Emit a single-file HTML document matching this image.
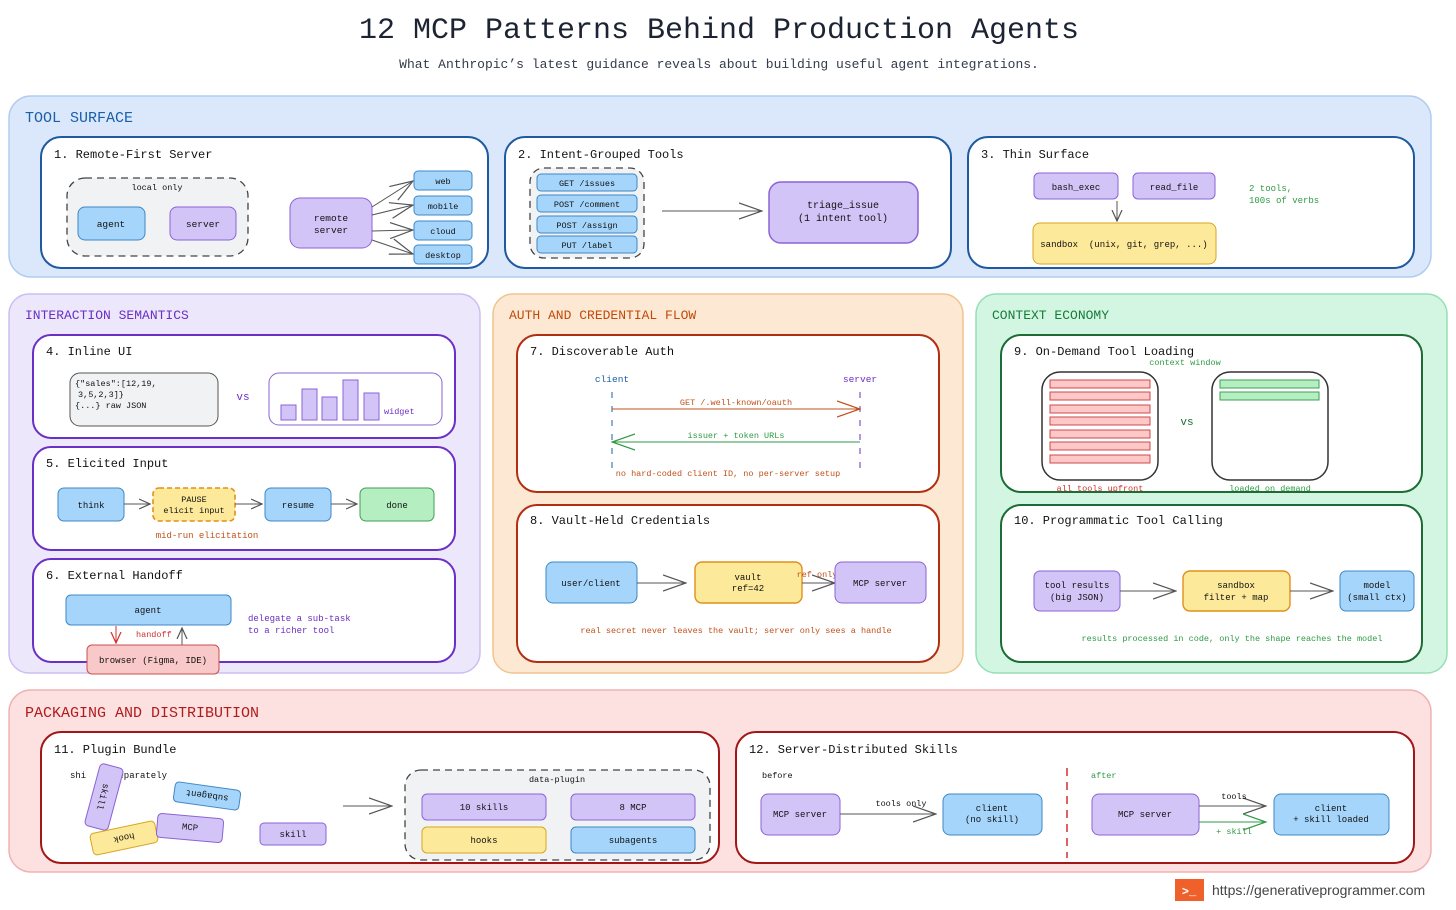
<!DOCTYPE html>
<html><head><meta charset="utf-8"><style>
html,body{margin:0;padding:0;background:#fff;}
svg{display:block;font-family:"Liberation Mono","DejaVu Sans Mono",monospace;}
</style></head><body>
<svg width="1456" height="910" viewBox="0 0 1456 910" xmlns="http://www.w3.org/2000/svg">
<defs>
<marker id="a" viewBox="0 0 12 12" refX="11" refY="6" markerWidth="12" markerHeight="12" markerUnits="userSpaceOnUse" orient="auto"><path d="M0,1 L11,6 L0,11" fill="none" stroke="#555" stroke-width="1.2"/></marker>
<marker id="aL" viewBox="0 0 24 20" refX="23" refY="10" markerWidth="24" markerHeight="20" markerUnits="userSpaceOnUse" orient="auto"><path d="M0,2 L23,10 L0,18" fill="none" stroke="#555" stroke-width="1.2"/></marker>
<marker id="aO" viewBox="0 0 24 20" refX="23" refY="10" markerWidth="24" markerHeight="20" markerUnits="userSpaceOnUse" orient="auto"><path d="M0,2 L23,10 L0,18" fill="none" stroke="#c0501a" stroke-width="1.2"/></marker>
<marker id="aG" viewBox="0 0 24 20" refX="23" refY="10" markerWidth="24" markerHeight="20" markerUnits="userSpaceOnUse" orient="auto"><path d="M0,2 L23,10 L0,18" fill="none" stroke="#2f9a45" stroke-width="1.2"/></marker>
<marker id="aR" viewBox="0 0 12 12" refX="11" refY="6" markerWidth="12" markerHeight="12" markerUnits="userSpaceOnUse" orient="auto"><path d="M0,1 L11,6 L0,11" fill="none" stroke="#d03030" stroke-width="1.2"/></marker>
</defs>

<text x="719" y="38" font-size="30" text-anchor="middle" fill="#1c2433" font-weight="500">12 MCP Patterns Behind Production Agents</text>
<text x="719" y="68" font-size="13" text-anchor="middle" fill="#333c4a">What Anthropic’s latest guidance reveals about building useful agent integrations.</text>

<rect x="9" y="96" width="1422" height="181" rx="22" fill="#dbe8fb" stroke="#b0cdee" stroke-width="1.5"/>
<text x="25" y="122" font-size="15" fill="#1a5fa8">TOOL SURFACE</text>

<g font-size="12" fill="#111">
<rect x="41" y="137" width="447" height="131" rx="20" fill="#fff" stroke="#1f5aa0" stroke-width="2"/>
<text x="54" y="158">1. Remote-First Server</text>
<rect x="505" y="137" width="446" height="131" rx="20" fill="#fff" stroke="#1f5aa0" stroke-width="2"/>
<text x="518" y="158">2. Intent-Grouped Tools</text>
<rect x="968" y="137" width="446" height="131" rx="20" fill="#fff" stroke="#1f5aa0" stroke-width="2"/>
<text x="981" y="158">3. Thin Surface</text>
</g>

<g font-size="9.5" text-anchor="middle" fill="#111">
<rect x="67" y="178" width="181" height="78" rx="18" fill="#f1f2f4" stroke="#444" stroke-dasharray="7,5" stroke-width="1.3"/>
<text x="157" y="190" font-size="8.5">local only</text>
<rect x="78" y="207" width="67" height="33" rx="7" fill="#a5d5fb" stroke="#3f87c4"/>
<text x="111" y="227">agent</text>
<rect x="170" y="207" width="66" height="33" rx="7" fill="#d3c4f8" stroke="#8b63d6"/>
<text x="203" y="227">server</text>
<rect x="290" y="198" width="82" height="50" rx="10" fill="#d3c4f8" stroke="#8b63d6"/>
<text x="331" y="221">remote</text><text x="331" y="233">server</text>
<g stroke="#555" fill="none" stroke-width="1">
<line x1="372" y1="207" x2="413" y2="181" marker-end="url(#aL)"/>
<line x1="372" y1="215" x2="413" y2="205" marker-end="url(#aL)"/>
<line x1="372" y1="231" x2="413" y2="230" marker-end="url(#aL)"/>
<line x1="372" y1="240" x2="413" y2="254" marker-end="url(#aL)"/>
</g>
<rect x="414" y="171" width="58" height="19" rx="4" fill="#a5d5fb" stroke="#3f87c4"/><text x="443" y="184" font-size="8.5">web</text>
<rect x="414" y="196" width="58" height="19" rx="4" fill="#a5d5fb" stroke="#3f87c4"/><text x="443" y="209" font-size="8.5">mobile</text>
<rect x="414" y="221" width="58" height="19" rx="4" fill="#a5d5fb" stroke="#3f87c4"/><text x="443" y="234" font-size="8.5">cloud</text>
<rect x="414" y="245" width="58" height="19" rx="4" fill="#a5d5fb" stroke="#3f87c4"/><text x="443" y="258" font-size="8.5">desktop</text>
</g>

<g font-size="8.5" text-anchor="middle" fill="#111">
<rect x="530" y="168" width="114" height="90" rx="14" fill="#f1f2f4" stroke="#444" stroke-dasharray="7,5" stroke-width="1.3"/>
<rect x="537" y="174" width="100" height="17" rx="4" fill="#a5d5fb" stroke="#3f87c4"/><text x="587" y="186">GET /issues</text>
<rect x="537" y="195" width="100" height="17" rx="4" fill="#a5d5fb" stroke="#3f87c4"/><text x="587" y="207">POST /comment</text>
<rect x="537" y="216" width="100" height="17" rx="4" fill="#a5d5fb" stroke="#3f87c4"/><text x="587" y="228">POST /assign</text>
<rect x="537" y="236" width="100" height="17" rx="4" fill="#a5d5fb" stroke="#3f87c4"/><text x="587" y="248">PUT /label</text>
<line x1="662" y1="211" x2="762" y2="211" stroke="#555" marker-end="url(#aL)"/>
<rect x="769" y="182" width="149" height="61" rx="12" fill="#d3c4f8" stroke="#8b63d6" stroke-width="1.5"/>
<text x="843" y="208" font-size="10">triage_issue</text><text x="843" y="221" font-size="10">(1 intent tool)</text>
</g>

<g font-size="9" text-anchor="middle" fill="#111">
<rect x="1034" y="173" width="84" height="26" rx="5" fill="#d3c4f8" stroke="#8b63d6"/><text x="1076" y="190">bash_exec</text>
<rect x="1133" y="173" width="82" height="26" rx="5" fill="#d3c4f8" stroke="#8b63d6"/><text x="1174" y="190">read_file</text>
<line x1="1117" y1="201" x2="1117" y2="221" stroke="#555" marker-end="url(#a)"/>
<rect x="1033" y="223" width="183" height="41" rx="7" fill="#fde99a" stroke="#d9a521"/>
<text x="1124" y="247" xml:space="preserve">sandbox  (unix, git, grep, ...)</text>
<text x="1249" y="191" text-anchor="start" fill="#2f9a45">2 tools,</text>
<text x="1249" y="203" text-anchor="start" fill="#2f9a45">100s of verbs</text>
</g>

<rect x="9" y="294" width="471" height="379" rx="20" fill="#ede7fc" stroke="#cdbdf2" stroke-width="1.5"/>
<text x="25" y="319" font-size="13" fill="#6a2fc4">INTERACTION SEMANTICS</text>
<g font-size="12" fill="#111">
<rect x="33" y="335" width="422" height="103" rx="18" fill="#fff" stroke="#6a2fc4" stroke-width="2"/>
<text x="46" y="355">4. Inline UI</text>
<rect x="33" y="447" width="422" height="103" rx="18" fill="#fff" stroke="#6a2fc4" stroke-width="2"/>
<text x="46" y="467">5. Elicited Input</text>
<rect x="33" y="559" width="422" height="103" rx="18" fill="#fff" stroke="#6a2fc4" stroke-width="2"/>
<text x="46" y="579">6. External Handoff</text>
</g>
<g font-size="8.5" fill="#111">
<rect x="70" y="373" width="148" height="53" rx="10" fill="#f1f2f4" stroke="#555"/>
<text x="75" y="386">{"sales":[12,19,</text>
<text x="78" y="397">3,5,2,3]}</text>
<text x="75" y="408">{...} raw JSON</text>
<text x="243" y="400" font-size="11" text-anchor="middle" fill="#6a2fc4">vs</text>
<rect x="269" y="373" width="173" height="52" rx="10" fill="#fff" stroke="#8b63d6"/>
<g fill="#d3c4f8" stroke="#8b63d6">
<rect x="281" y="405" width="15" height="15"/><rect x="302" y="389" width="15" height="31"/>
<rect x="322" y="397" width="15" height="23"/><rect x="343" y="380" width="15" height="40"/>
<rect x="364" y="393" width="15" height="27"/></g>
<text x="384" y="414" fill="#6a2fc4">widget</text>
</g>
<g font-size="9" text-anchor="middle" fill="#111">
<rect x="58" y="488" width="66" height="33" rx="6" fill="#a5d5fb" stroke="#3f87c4"/><text x="91" y="508">think</text>
<line x1="124" y1="504" x2="150" y2="504" stroke="#555" marker-end="url(#a)"/>
<rect x="153" y="488" width="82" height="33" rx="6" fill="#fde99a" stroke="#e0901a" stroke-width="1.6" stroke-dasharray="5,3"/>
<text x="194" y="502" font-size="8.5">PAUSE</text><text x="194" y="513" font-size="8.5">elicit input</text>
<line x1="235" y1="504" x2="262" y2="504" stroke="#555" marker-end="url(#a)"/>
<rect x="265" y="488" width="66" height="33" rx="6" fill="#a5d5fb" stroke="#3f87c4"/><text x="298" y="508">resume</text>
<line x1="331" y1="504" x2="357" y2="504" stroke="#555" marker-end="url(#a)"/>
<rect x="360" y="488" width="74" height="33" rx="6" fill="#b5efc1" stroke="#3d9f56"/><text x="397" y="508">done</text>
<text x="207" y="538" fill="#c0501a">mid-run elicitation</text>
</g>
<g font-size="9" fill="#111">
<rect x="66" y="595" width="165" height="30" rx="5" fill="#a5d5fb" stroke="#3f87c4"/><text x="148" y="613" text-anchor="middle">agent</text>
<line x1="116" y1="626" x2="116" y2="643" stroke="#d03030" marker-end="url(#aR)"/>
<line x1="182" y1="645" x2="182" y2="628" stroke="#555" marker-end="url(#a)"/>
<text x="136" y="637" fill="#d03030" font-size="8.5">handoff</text>
<rect x="87" y="645" width="132" height="29" rx="5" fill="#f9c8c8" stroke="#c85050"/><text x="153" y="663" text-anchor="middle">browser (Figma, IDE)</text>
<text x="248" y="621" fill="#6a2fc4">delegate a sub-task</text>
<text x="248" y="633" fill="#6a2fc4">to a richer tool</text>
</g>

<rect x="493" y="294" width="470" height="379" rx="20" fill="#fde9d3" stroke="#f0c48e" stroke-width="1.5"/>
<text x="509" y="319" font-size="13" fill="#c04a0a">AUTH AND CREDENTIAL FLOW</text>
<g font-size="12" fill="#111">
<rect x="517" y="335" width="422" height="157" rx="20" fill="#fff" stroke="#b22e10" stroke-width="2"/>
<text x="530" y="355">7. Discoverable Auth</text>
<rect x="517" y="505" width="422" height="157" rx="20" fill="#fff" stroke="#b22e10" stroke-width="2"/>
<text x="530" y="524">8. Vault-Held Credentials</text>
</g>
<g font-size="9.5">
<text x="612" y="382" text-anchor="middle" fill="#1a5fa8">client</text>
<text x="860" y="382" text-anchor="middle" fill="#6a2fc4">server</text>
<line x1="612" y1="392" x2="612" y2="470" stroke="#1a5fa8" stroke-dasharray="6,8"/>
<line x1="860" y1="392" x2="860" y2="470" stroke="#6a2fc4" stroke-dasharray="6,8"/>
<line x1="612" y1="409" x2="860" y2="409" stroke="#c0501a" marker-end="url(#aO)"/>
<text x="736" y="405" text-anchor="middle" fill="#c0501a" font-size="8.5">GET /.well-known/oauth</text>
<line x1="860" y1="442" x2="612" y2="442" stroke="#2f9a45" marker-end="url(#aG)"/>
<text x="736" y="438" text-anchor="middle" fill="#2f9a45" font-size="8.5">issuer + token URLs</text>
<text x="728" y="476" text-anchor="middle" fill="#c0501a" font-size="8.5">no hard-coded client ID, no per-server setup</text>
</g>
<g font-size="9" text-anchor="middle" fill="#111">
<rect x="546" y="562" width="91" height="41" rx="7" fill="#a5d5fb" stroke="#3f87c4"/><text x="591" y="586">user/client</text>
<line x1="637" y1="583" x2="686" y2="583" stroke="#555" marker-end="url(#aL)"/>
<rect x="695" y="562" width="107" height="41" rx="7" fill="#fde99a" stroke="#e0901a" stroke-width="1.4"/>
<text x="748" y="580">vault</text><text x="748" y="591">ref=42</text>
<line x1="802" y1="583" x2="835" y2="583" stroke="#555" marker-end="url(#aL)"/>
<text x="817" y="577" fill="#c0501a" font-size="8.5">ref only</text>
<rect x="835" y="562" width="91" height="41" rx="7" fill="#d3c4f8" stroke="#8b63d6"/><text x="880" y="586">MCP server</text>
<text x="736" y="633" fill="#c0501a" font-size="8.5">real secret never leaves the vault; server only sees a handle</text>
</g>

<rect x="976" y="294" width="471" height="379" rx="20" fill="#d3f6e3" stroke="#95dfb5" stroke-width="1.5"/>
<text x="992" y="319" font-size="13" fill="#167a3a">CONTEXT ECONOMY</text>
<g font-size="12" fill="#111">
<rect x="1001" y="335" width="421" height="157" rx="20" fill="#fff" stroke="#1d6b35" stroke-width="2"/>
<text x="1014" y="355">9. On-Demand Tool Loading</text>
<rect x="1001" y="505" width="421" height="157" rx="20" fill="#fff" stroke="#1d6b35" stroke-width="2"/>
<text x="1014" y="524">10. Programmatic Tool Calling</text>
</g>
<g font-size="8.5" text-anchor="middle">
<text x="1185" y="365" fill="#2f9a45">context window</text>
<rect x="1042" y="372" width="116" height="108" rx="18" fill="#fff" stroke="#333" stroke-width="1.5"/>
<g fill="#fcc8c8" stroke="#d04848">
<rect x="1050" y="380" width="100" height="8"/><rect x="1050" y="392" width="100" height="8"/>
<rect x="1050" y="405" width="100" height="8"/><rect x="1050" y="417" width="100" height="8"/>
<rect x="1050" y="430" width="100" height="8"/><rect x="1050" y="442" width="100" height="8"/>
<rect x="1050" y="455" width="100" height="8"/></g>
<text x="1187" y="425" font-size="11" fill="#1d6b35">vs</text>
<rect x="1212" y="372" width="116" height="108" rx="18" fill="#fff" stroke="#333" stroke-width="1.5"/>
<g fill="#b5efc1" stroke="#3d9f56">
<rect x="1220" y="380" width="99" height="8"/><rect x="1220" y="392" width="99" height="8"/></g>
<text x="1100" y="491" fill="#d03030">all tools upfront</text>
<text x="1270" y="491" fill="#2f9a45">loaded on demand</text>
</g>
<g font-size="9" text-anchor="middle" fill="#111">
<rect x="1034" y="571" width="86" height="40" rx="6" fill="#d3c4f8" stroke="#8b63d6"/>
<text x="1077" y="588">tool results</text><text x="1077" y="600">(big JSON)</text>
<line x1="1120" y1="591" x2="1176" y2="591" stroke="#555" marker-end="url(#aL)"/>
<rect x="1183" y="571" width="107" height="40" rx="7" fill="#fde99a" stroke="#e0901a" stroke-width="1.4"/>
<text x="1236" y="588">sandbox</text><text x="1236" y="600">filter + map</text>
<line x1="1290" y1="591" x2="1333" y2="591" stroke="#555" marker-end="url(#aL)"/>
<rect x="1340" y="571" width="74" height="40" rx="6" fill="#a5d5fb" stroke="#3f87c4"/>
<text x="1377" y="588">model</text><text x="1377" y="600">(small ctx)</text>
<text x="1232" y="641" fill="#2f9a45" font-size="8.5">results processed in code, only the shape reaches the model</text>
</g>

<rect x="9" y="690" width="1422" height="182" rx="22" fill="#fde0e0" stroke="#f0b3b3" stroke-width="1.5"/>
<text x="25" y="717" font-size="15" fill="#b01c1c">PACKAGING AND DISTRIBUTION</text>
<g font-size="12" fill="#111">
<rect x="41" y="732" width="678" height="131" rx="20" fill="#fff" stroke="#a11616" stroke-width="2"/>
<text x="54" y="753">11. Plugin Bundle</text>
<rect x="736" y="732" width="678" height="131" rx="20" fill="#fff" stroke="#a11616" stroke-width="2"/>
<text x="749" y="753">12. Server-Distributed Skills</text>
</g>
<g font-size="9" text-anchor="middle" fill="#111">
<text x="70" y="778" text-anchor="start">shi</text>
<text x="113" y="778" text-anchor="start">separately</text>
<g transform="translate(104,797) rotate(-75)"><rect x="-32" y="-12" width="64" height="24" rx="4" fill="#d3c4f8" stroke="#8b63d6"/><text x="0" y="4" transform="rotate(180)">skill</text></g>
<g transform="translate(207,796) rotate(8)"><rect x="-33" y="-10" width="66" height="20" rx="4" fill="#a5d5fb" stroke="#3f87c4"/><text x="0" y="3" transform="rotate(180)">subagent</text></g>
<g transform="translate(124,838) rotate(-12)"><rect x="-33" y="-11" width="66" height="22" rx="4" fill="#fde99a" stroke="#d9a521"/><text x="0" y="3" transform="rotate(180)">hook</text></g>
<g transform="translate(190,828) rotate(5)"><rect x="-33" y="-12" width="66" height="24" rx="4" fill="#d3c4f8" stroke="#8b63d6"/><text x="0" y="2">MCP</text></g>
<rect x="260" y="823" width="66" height="22" rx="4" fill="#d3c4f8" stroke="#8b63d6"/><text x="293" y="837">skill</text>
<line x1="343" y1="806" x2="392" y2="806" stroke="#555" marker-end="url(#aL)"/>
<rect x="405" y="770" width="305" height="90" rx="16" fill="#f1f2f4" stroke="#444" stroke-dasharray="7,5" stroke-width="1.3"/>
<text x="557" y="782" font-size="8.5">data-plugin</text>
<rect x="422" y="794" width="124" height="26" rx="5" fill="#d3c4f8" stroke="#8b63d6"/><text x="484" y="810">10 skills</text>
<rect x="571" y="794" width="124" height="26" rx="5" fill="#d3c4f8" stroke="#8b63d6"/><text x="633" y="810">8 MCP</text>
<rect x="422" y="827" width="124" height="26" rx="5" fill="#fde99a" stroke="#d9a521"/><text x="484" y="843">hooks</text>
<rect x="571" y="827" width="124" height="26" rx="5" fill="#a5d5fb" stroke="#3f87c4"/><text x="633" y="843">subagents</text>
</g>
<g font-size="9" text-anchor="middle" fill="#111">
<text x="762" y="778" text-anchor="start" font-size="8.5">before</text>
<text x="1091" y="778" text-anchor="start" font-size="8.5" fill="#2f9a45">after</text>
<line x1="1067" y1="768" x2="1067" y2="858" stroke="#d03030" stroke-width="1.5" stroke-dasharray="8,6"/>
<rect x="761" y="794" width="79" height="41" rx="7" fill="#d3c4f8" stroke="#8b63d6"/><text x="800" y="817">MCP server</text>
<line x1="840" y1="814" x2="936" y2="814" stroke="#555" marker-end="url(#aL)"/>
<text x="901" y="806" font-size="8.5">tools only</text>
<rect x="943" y="794" width="99" height="41" rx="7" fill="#a5d5fb" stroke="#3f87c4"/>
<text x="992" y="811">client</text><text x="992" y="822">(no skill)</text>
<rect x="1092" y="794" width="107" height="41" rx="7" fill="#d3c4f8" stroke="#8b63d6"/><text x="1145" y="817">MCP server</text>
<line x1="1199" y1="806" x2="1266" y2="806" stroke="#555" marker-end="url(#aL)"/>
<line x1="1199" y1="822" x2="1266" y2="822" stroke="#2f9a45" marker-end="url(#aG)"/>
<text x="1234" y="799" font-size="8.5">tools</text>
<text x="1234" y="834" font-size="8.5" fill="#2f9a45">+ skill</text>
<rect x="1274" y="794" width="115" height="41" rx="7" fill="#a5d5fb" stroke="#3f87c4"/>
<text x="1331" y="811">client</text><text x="1331" y="822">+ skill loaded</text>
</g>

<rect x="1175" y="879" width="29" height="22" fill="#f0602a"/>
<text x="1189" y="895" font-size="12" text-anchor="middle" fill="#fff" font-weight="bold">&gt;_</text>
<text x="1212" y="895" font-size="14" fill="#444" font-family="Liberation Sans, sans-serif">https://generativeprogrammer.com</text>
</svg>
</body></html>
